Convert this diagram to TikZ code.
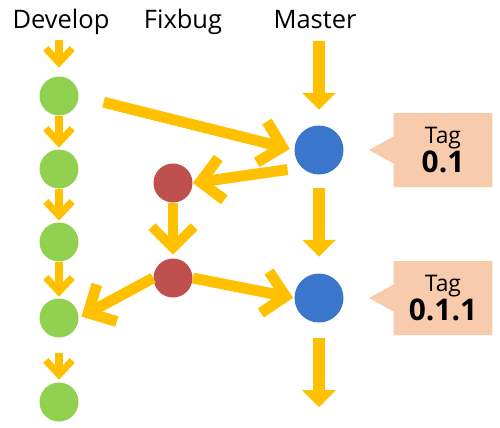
\documentclass[tikz,border=0pt]{standalone}
\usepackage{fontspec}
\setmainfont{Open Sans}
\usetikzlibrary{arrows.meta,shapes.callouts}

\definecolor{arwyellow}{HTML}{FFC000}
\definecolor{devgreen}{HTML}{92D050}
\definecolor{fixred}{HTML}{C0504D}
\definecolor{masblue}{HTML}{3A77CC}
\definecolor{tagpeach}{HTML}{F8CBAD}

\tikzstyle{head} = [font=\fontsize{14.5}{17}\selectfont, anchor=base]
\tikzstyle{dev} = [circle, fill=devgreen, minimum size=0.78cm, inner sep=0pt]
\tikzstyle{fix} = [circle, fill=fixred, minimum size=0.78cm, inner sep=0pt]
\tikzstyle{mas} = [circle, fill=masblue, minimum size=0.98cm, inner sep=0pt]
\tikzstyle{tagbox} = [rectangle callout, fill=tagpeach, minimum width=1.98cm,
  minimum height=1.48cm, inner sep=0pt, callout pointer width=0.54cm,
  align=center, font=\fontsize{13}{15}\selectfont]
\tikzstyle{devarw} = [-{Straight Barb[length=8pt,width=15pt]}, arwyellow, line width=4pt]
\tikzstyle{diagarw} = [-{Straight Barb[length=12pt,width=24pt]}, arwyellow, line width=6.2pt]
\tikzstyle{masarw} = [-{Triangle[length=9.6pt,width=19.3pt,line width=0pt]}, arwyellow, line width=6.8pt]

\begin{document}
\begin{tikzpicture}[x=0.02cm,y=-0.02cm]
\useasboundingbox (0,0) rectangle (500,427);

% branch names
\node[head] (hdev) at (61,28) {Develop};
\node[head] (hfix) at (183,28) {Fixbug};
\node[head] (hmas) at (315,28) {Master};

% commits
\node[dev] (d1) at (59,96) {};
\node[dev] (d2) at (59,169) {};
\node[dev] (d3) at (59,242) {};
\node[dev] (d4) at (59,318) {};
\node[dev] (d5) at (59,402) {};
\node[fix] (f1) at (173,183) {};
\node[fix] (f2) at (173,278) {};
\node[mas] (m1) at (319,150) {};
\node[mas] (m2) at (319,298) {};

% tags
\coordinate (tip1) at (369,150);
\coordinate (tip2) at (369,298);
\node[tagbox, callout absolute pointer=(tip1)] (t1) at (443,150)
  {Tag\\{\fontsize{17}{19}\selectfont\bfseries 0.1}};
\node[tagbox, callout absolute pointer=(tip2)] (t2) at (443,298)
  {Tag\\{\fontsize{17}{19}\selectfont\bfseries 0.1.1}};

\coordinate (dtop) at (59,40);
\coordinate (mtop) at (319,41);
\coordinate (mend) at (319,407);

% develop line
\draw[devarw, shorten >=0.17cm] (dtop) -- (d1);
\draw[devarw, shorten >=0.03cm] (d1) -- (d2);
\draw[devarw, shorten >=0.03cm] (d2) -- (d3);
\draw[devarw, shorten >=0.03cm] (d3) -- (d4);
\draw[devarw, shorten <=0.3cm, shorten >=0.05cm] (d4) -- (d5);

% master line
\draw[masarw, shorten >=0.31cm] (mtop) -- (m1);
\draw[masarw, shorten <=0.27cm, shorten >=0.33cm] (m1) -- (m2);
\draw[masarw, shorten <=0.31cm] (m2) -- (mend);

% merges
\draw[diagarw, shorten <=0.51cm, shorten >=0.09cm] (d1.east) -- (m1.west);
\draw[diagarw, shorten <=0.28cm] (m1.225) -- (f1.east);
\draw[diagarw, line width=5.5pt, shorten >=0.07cm] (f1) -- (f2);
\draw[diagarw, shorten >=0.06cm] (f2.west) -- (d4.east);
\draw[diagarw, shorten >=0.02cm] (f2.east) -- (m2.west);

\end{tikzpicture}
\end{document}
